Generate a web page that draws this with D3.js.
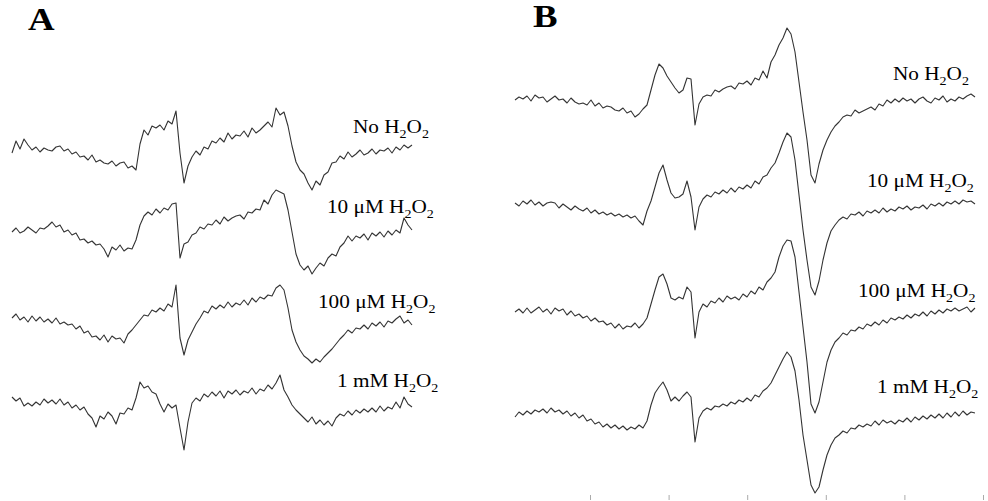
<!DOCTYPE html>
<html>
<head>
<meta charset="utf-8">
<script src="https://cdn.jsdelivr.net/npm/d3@7"></script>
<style>
  body { margin: 0; background: #fff; }
  svg { display: block; }
</style>
</head>
<body>
<div id="chart"></div>
<script>
// EPR signal intensities (arbitrary units), one value per field step
const labelsA = ["No H2O2", "10 μM H2O2", "100 μM H2O2", "1 mM H2O2"];
const labelsB = ["No H2O2", "10 μM H2O2", "100 μM H2O2", "1 mM H2O2"];

const specA1 = [-5,7,-1,9,3,-2,1,-4,0,-2, -3,1,2,-3,-1,-6,-4,-9,-8,-12, -7,-14,-12,-15,-16,-13,-18,-15,-14,-20,
  -18,-22,4,18,13,22,20,23,18,27, 24,37,-5,-35,-18,-9,-3,-7,1,-1, 7,5,10,6,15,9,13,12,17,11,
  20,15,18,22,26,21,40,33,36,22, 2,-14,-22,-26,-35,-42,-33,-37,-27,-24, -15,-14,-8,-11,-4,-9,-6,-2,-7,-5,
  -1,-6,-2,-3,0,-5,1,-2,3,0, 3];
const specA2 = [-2,2,-3,-1,3,0,-3,2,1,4, 8,3,5,-2,0,-5,-3,-10,-9,-13, -11,-15,-14,-19,-27,-17,-20,-15,-21,-18,
  -19,-10,5,14,18,15,21,17,22,20, 26,27,-28,-14,-12,-5,-3,3,1,6, 5,10,6,13,9,12,14,15,11,18,
  17,21,20,30,26,35,40,38,36,20, -2,-24,-35,-40,-36,-44,-38,-33,-36,-28, -24,-26,-17,-13,-6,-11,-6,-8,-4,-10,
  -3,-6,-2,-7,-1,-5,0,-3,12,5, 0];
const specA3 = [0,4,-2,1,-4,2,-3,1,-4,-1, -5,0,-6,-4,-7,-6,-11,-8,-15,-13, -19,-18,-22,-17,-24,-18,-21,-20,-25,-16,
  -12,-7,-2,3,2,8,6,10,7,14, 11,33,-20,-37,-22,-14,-6,0,7,5, 12,9,13,10,16,11,15,13,18,13,
  20,16,21,19,23,22,30,33,28,10, -12,-24,-32,-38,-41,-45,-41,-44,-39,-35, -31,-26,-21,-17,-12,-15,-10,-11,-7,-11,
  -5,-8,-4,-9,-3,-5,-1,2,-5,-2, -7];
const specA4 = [3,-1,2,-6,-3,-6,-2,-5,1,-3, 0,-4,1,-5,-2,-8,-5,-10,-7,-14, -18,-27,-16,-19,-12,-16,-24,-13,-14,-8,
  -10,2,18,12,14,8,6,-4,-12,-4, -8,-5,-28,-50,-22,-3,2,-1,6,3, 8,4,9,2,9,6,10,5,9,7,
  12,6,11,9,15,11,17,25,10,3, -5,-10,-14,-18,-22,-17,-24,-20,-25,-21, -26,-18,-14,-16,-11,-15,-10,-13,-9,-12,
  -8,-12,-6,-11,-7,-9,-2,-8,3,-4, -7];

const specB1 = [0,3,1,4,-1,5,2,3,-2,1, 4,0,1,-3,2,-2,-4,-3,-5,0, -6,-3,-8,-6,-7,-10,-11,-8,-13,-11,
  -17,-14,-9,-5,10,25,36,32,24,18, 12,7,10,22,21,-25,-4,3,5,4, 10,8,11,13,14,11,17,16,19,15,
  22,20,29,22,38,45,55,62,72,66, 48,18,-12,-40,-75,-83,-64,-50,-40,-32, -26,-22,-17,-15,-16,-10,-13,-11,-9,-7,
  -10,-4,-6,0,-3,1,-2,2,-1,1, -3,1,3,-1,-3,2,0,4,-2,1, -1,3,1,4,6,3];
const specB2 = [2,-1,4,1,5,0,3,-1,2,3, 2,-3,1,-2,-5,-1,-4,-6,-3,-8, -5,-9,-7,-10,-8,-11,-9,-12,-10,-13,
  -11,-16,-20,-6,4,18,32,40,25,12, 7,8,11,24,8,-25,-2,6,10,8, 13,11,15,12,17,13,18,16,20,17,
  24,21,28,30,37,42,52,63,72,68, 45,10,-25,-55,-82,-90,-76,-55,-38,-26, -20,-15,-12,-14,-9,-10,-7,-11,-6,-8,
  -5,-8,-3,-7,-4,-6,-2,-4,-1,-5, -2,-3,0,-4,1,-1,2,-1,3,1, 4,1,5,3,4,1];
const specB3 = [0,3,-1,4,-1,2,5,0,3,-2, 4,1,3,-3,1,-4,-2,-6,-4,-9, -6,-10,-9,-13,-11,-16,-12,-17,-14,-15,
  -11,-16,-12,-6,8,22,35,38,28,14, 12,15,13,25,20,-26,0,8,5,11, 9,14,10,16,13,15,12,18,15,21,
  18,25,22,30,34,40,55,66,72,71, 55,20,-15,-50,-92,-101,-90,-70,-50,-38, -30,-26,-21,-23,-18,-19,-15,-17,-12,-14,
  -10,-13,-8,-11,-6,-8,-5,-7,-3,-6, -2,-4,0,-4,1,-2,2,-1,3,1, 4,1,3,5,0,4];
const specB4 = [-2,3,0,4,1,5,3,6,2,7, 3,5,1,4,-1,2,-3,0,-6,-4, -9,-7,-12,-9,-13,-10,-14,-11,-15,-12,
  -14,-10,-13,-6,10,22,28,33,25,14, 18,14,19,23,18,-27,-3,4,7,5, 9,8,11,9,13,11,15,13,17,14,
  20,18,24,27,32,40,48,56,63,58, 44,15,-20,-45,-70,-78,-72,-55,-40,-30, -23,-20,-16,-18,-13,-14,-10,-12,-9,-11,
  -6,-10,-5,-8,-6,-9,-5,-7,-3,-7, -2,-5,-1,-4,0,-3,1,-3,2,-2, 3,-1,4,0,3,2];

const tickFields = [0, 1, 2, 3, 4, 5];

const W = 988, H = 501;
const svg = d3.select("#chart").append("svg")
  .attr("width", W).attr("height", H);

const serif = "'Liberation Serif', 'Times New Roman', serif";
const stretch = 1.18;

// panel layout
const panels = [
  { letter: "A", lx: 28, ly: 30, x0: 12, x1: 412, spectra: [specA1, specA2, specA3, specA4],
    bases: [148, 230, 318, 400], labels: labelsA,
    labelPos: [[353, 133], [327, 213], [318, 308], [337, 387]] },
  { letter: "B", lx: 533, ly: 27, x0: 515, x1: 975, spectra: [specB1, specB2, specB3, specB4],
    bases: [100, 205, 312, 415], labels: labelsB,
    labelPos: [[893, 80], [867, 187], [858, 297], [877, 393]] }
];

function drawLabel(g, txt, x, y, size) {
  const t = g.append("text")
    .attr("transform", `translate(${x},${y}) scale(${stretch},1)`)
    .style("font-family", serif)
    .style("font-size", size + "px")
    .style("fill", "#000");
  // "H2O2" with the 2s as subscripts
  const head = txt.replace(/2O2$/, "");
  const sub = (size * 0.66) + "px";
  t.append("tspan").text(head);
  t.append("tspan").attr("dy", 5).style("font-size", sub).text("2");
  t.append("tspan").attr("dy", -5).text("O");
  t.append("tspan").attr("dy", 5).style("font-size", sub).text("2");
}

panels.forEach((p) => {
  const g = svg.append("g");

  g.append("text")
    .attr("transform", `translate(${p.lx},${p.ly}) scale(1.15,1)`)
    .style("font-family", serif)
    .style("font-weight", "bold")
    .style("font-size", "32px")
    .text(p.letter);

  p.spectra.forEach((s, k) => {
    const x = d3.scaleLinear().domain([0, s.length - 1]).range([p.x0, p.x1]);
    const y = d3.scaleLinear().domain([-50, 50]).range([p.bases[k] + 50, p.bases[k] - 50]);
    const line = d3.line().x((d, i) => x(i)).y((d) => y(d));
    g.append("path")
      .datum(s)
      .attr("d", line)
      .style("fill", "none")
      .style("stroke", "#333")
      .style("stroke-width", 1.1)
      .style("stroke-linejoin", "round");
  });

  p.labels.forEach((lab, k) => {
    drawLabel(g, lab, p.labelPos[k][0], p.labelPos[k][1], 18);
  });
});

// faint field ticks under panel B
const tickScale = d3.scaleLinear().domain([0, 5]).range([590, 983]);
const axis = svg.append("g")
  .attr("transform", "translate(0,500)")
  .call(d3.axisTop(tickScale).tickValues(tickFields).tickSize(5).tickFormat(""));
axis.select(".domain").remove();
axis.selectAll("line").style("stroke", "#aaa");
</script>
</body>
</html>
